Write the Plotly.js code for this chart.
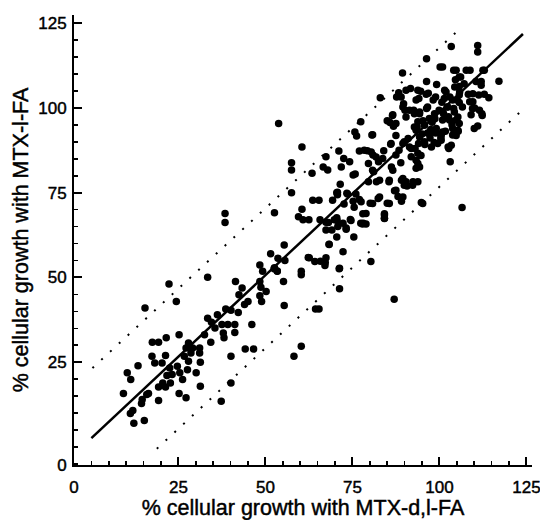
<!DOCTYPE html>
<html>
<head>
<meta charset="utf-8">
<script src="https://cdn.plot.ly/plotly-3.0.1.min.js"></script>
<style>
  html, body { margin: 0; padding: 0; background: #ffffff; }
  #chart { width: 540px; height: 520px; }
  #chart .xtick text, #chart .ytick text, #chart .xtitle, #chart .ytitle {
    stroke: #000000; stroke-width: 0.45px;
  }
</style>
</head>
<body>
<div id="chart"></div>
<script>
// % cellular growth with MTX-d,l-FA (x) vs with MTX-l-FA (y), one entry per cell line / experiment
const growthDL = [
  9.2,10.3,11.3,11.2,11.9,12.2,13.4,14.4,14.6,15.2,15.4,15.9,16.4,17.4,17.5,18.2,19.3,19.3,19.3,20.3,
  20.5,21.3,21.5,21.3,21.7,22.3,22.5,22.7,23.2,24.4,24.7,25.2,25.2,25.4,26.2,26.7,27.2,27.2,27.6,27.9,
  28.1,28.6,29.1,27.9,30.1,31.1,31.1,31.3,31.3,32.5,33.4,33.4,34.3,34.5,35.5,36.2,37.3,37.5,37.9,38.1,
  38.4,38.4,38.6,39.2,40.1,40.1,40.1,41.2,41.2,41.4,42.2,42.4,43.3,44.0,44.2,45.0,46.1,46.6,48.4,48.4,
  48.7,48.4,48.9,49.2,50.2,51.5,52.6,52.6,53.4,53.6,53.8,55.2,55.4,55.4,55.6,57.5,57.5,57.5,58.2,60.3,
  60.3,60.3,60.5,60.5,59.5,60.8,62.3,62.5,63.4,63.6,64.2,64.4,65.4,65.4,65.7,66.6,67.2,67.4,67.4,67.9,
  68.1,68.3,69.1,69.3,69.8,70.5,70.5,70.5,70.8,71.1,71.3,71.3,71.5,71.8,72.3,72.3,72.5,73.2,73.4,74.2,
  74.4,75.2,75.2,75.4,75.7,76.2,77.0,77.0,77.4,77.4,78.1,78.9,79.3,79.6,79.6,80.1,80.3,80.6,80.9,81.1,
  81.9,82.4,82.5,83.0,84.0,84.2,84.2,85.0,85.0,85.5,86.0,86.2,86.5,86.8,87.0,87.1,87.5,87.7,88.1,88.4,
  88.9,89.1,89.1,89.4,89.7,89.9,90.1,90.4,90.7,91.4,91.7,91.9,92.4,92.6,92.8,93.0,93.3,93.3,93.3,93.6,
  93.8,94.0,94.3,94.6,94.8,95.0,95.3,95.8,96.3,96.3,96.3,96.6,96.8,97.3,97.5,97.7,97.9,98.2,98.5,98.7,
  98.9,99.2,99.5,99.9,100.2,100.4,100.7,100.9,101.2,101.5,101.7,102.2,102.5,102.6,103.0,103.1,103.4,103.6,103.8,104.1,
  104.1,104.4,104.6,104.8,105.1,105.4,106.5,105.8,106.1,106.6,107.1,107.7,108.3,108.7,109.5,110.0,110.5,111.0,111.0,111.3,
  111.5,112.0,112.3,112.5,114.2,117.1,
  89.5,91.4,92.8,94.3,96.6,86.6,85.8,87.5,90.4,93.8,95.7,97.1,98.6,93.8,94.1,96.2,98.9,88.3,90.4,89.0,
  100.9,104.8,108.8,112.9,105.7,105.7,105.7,105.7,112.0,109.6,112.9,109.6,110.1,109.1,112.2,101.9,101.4,102.4,103.8,104.3,
  105.3,105.7,102.9,100.9,111.0,80.8,78.4,80.4,81.8,83.7,86.1,87.5,89.5,91.0,93.3,94.3,95.7,97.1,99.1,100.5,
  91.9,94.7,93.8,94.3,80.8,82.8,85.6,86.6,89.5,89.9,92.3,87.5,89.5,93.8,77.5,80.8,85.6,82.8,78.0,84.2,
  84.2,95.2,100.9,100.5,103.8,105.3,104.8,103.4,102.7,
  75.8,70.7,70.7,73.6,76.0,72.6,75.5,70.6,67.4,73.2,74.6,77.9,78.9,68.3,65.8,67.4,67.1,62.6,71.2,53.4,52.5
];
const growthL = [
  15.8,21.9,19.9,9.9,10.8,7.0,24.0,12.8,14.0,7.8,41.0,15.5,15.8,26.8,30.9,24.8,30.9,17.7,13.7,24.8,
  18.9,27.0,32.2,17.7,21.1,48.1,23.3,18.9,21.4,42.9,23.8,33.1,15.8,21.9,19.9,26.8,14.5,29.2,22.8,25.3,
  29.7,27.7,29.2,30.7,21.9,27.7,29.2,25.0,17.9,33.1,50.1,38.0,30.9,36.8,35.1,39.0,13.5,36.1,33.6,32.2,
  68.9,66.2,40.7,36.1,40.3,26.8,18.9,36.1,33.8,48.8,39.7,44.9,46.9,42.0,28.9,42.9,36.1,28.9,53.7,48.8,
  47.1,44.6,42.9,51.8,45.9,57.0,69.1,52.9,51.8,55.7,95.4,48.8,41.7,59.6,55.0,83.8,81.7,75.0,26.8,29.7,
  51.8,50.8,88.5,70.1,67.9,67.0,55.9,67.0,80.7,72.8,54.7,40.7,72.8,40.7,67.0,82.6,54.4,64.0,85.6,81.7,
  66.2,59.8,64.0,72.8,67.0,75.0,61.9,67.6,65.0,87.3,52.7,46.7,77.5,82.6,57.6,66.0,85.1,64.2,74.8,84.1,
  67.1,80.2,72.5,61.9,92.9,91.7,73.0,87.3,95.9,66.0,66.0,68.9,87.4,83.6,78.2,71.9,54.7,92.0,86.1,81.2,
  78.2,73.3,84.1,103.0,87.4,68.4,67.5,71.9,96.2,78.2,89.3,82.6,97.8,94.6,43.6,75.6,86.1,103.2,73.9,87.5,
  83.8,78.7,72.5,110.3,101.2,90.0,99.3,78.2,77.0,88.5,105.7,85.6,78.2,99.3,94.4,88.0,102.3,84.6,82.2,94.4,
  86.6,89.5,98.3,104.9,72.1,92.3,96.2,89.2,114.5,99.8,107.8,92.6,104.3,91.1,93.6,88.5,95.8,102.3,89.8,96.8,
  92.6,106.9,89.5,99.3,112.1,91.1,101.7,96.4,98.3,105.2,93.1,100.3,88.5,97.4,103.2,84.1,118.1,95.0,92.0,111.1,
  99.8,106.2,108.3,96.4,102.3,93.1,70.6,104.7,109.1,100.3,107.1,111.1,104.0,101.8,99.8,93.9,107.8,118.4,116.5,103.8,
  99.3,107.8,97.8,111.1,103.0,107.9,
  100.3,99.3,98.3,98.8,100.3,98.0,95.7,95.4,97.3,95.9,94.9,96.9,98.3,105.2,102.8,104.0,103.2,104.5,105.2,103.2,
  112.1,111.1,111.1,111.1,109.1,106.3,103.8,101.6,106.7,104.2,104.0,101.8,100.0,98.0,98.3,104.7,102.8,100.3,102.3,98.8,
  97.3,95.4,96.4,98.8,94.7,92.1,87.5,87.0,85.5,85.1,89.5,91.9,89.5,91.0,93.4,91.4,90.0,92.4,93.9,91.9,
  88.0,86.0,83.6,82.6,81.6,78.7,78.7,81.6,79.2,77.2,77.2,75.7,73.7,78.2,72.3,71.8,71.8,73.7,68.8,68.8,
  67.4,71.8,92.9,90.5,93.9,93.4,91.9,89.0,88.0,
  80.5,75.1,74.4,74.6,74.6,71.7,70.7,66.8,66.3,64.6,66.8,65.8,65.8,59.7,54.8,55.8,53.5,55.8,52.6,51.9,52.6
];

// regression line and the two dotted limits (end points)
const fitX = [0, 124];
const fitY = [2.6, 121.8];
const upperX = [0.3, 105.2];
const upperY = [23.3, 122.7];
const lowerX = [18.8, 123.3];
const lowerY = [-0.5, 98.9];

// axes: the "0" labels sit at the corner where the axes meet
const xRange = [-5.0, 126.6];
const yRange = [-5.3, 127.4];
const xTickVals = [xRange[0], 25, 50, 75, 100, 125];
const xTickText = ['0', '25', '50', '75', '100', '125'];
const yTickVals = [yRange[0], 25, 50, 75, 100, 125];
const yTickText = ['0', '25', '50', '75', '100', '125'];

const FONT = 'Liberation Sans, Arial, Helvetica, sans-serif';

const traces = [
  {
    type: 'scatter', mode: 'markers', x: growthDL, y: growthL,
    marker: { color: '#000000', size: 7.5, line: { width: 0 } },
    hoverinfo: 'x+y', showlegend: false
  },
  {
    type: 'scatter', mode: 'lines', x: fitX, y: fitY,
    line: { color: '#000000', width: 2.5 }, hoverinfo: 'skip', showlegend: false
  },
  {
    type: 'scatter', mode: 'lines', x: upperX, y: upperY,
    line: { color: '#000000', width: 2, dash: '2px,10px' }, hoverinfo: 'skip', showlegend: false
  },
  {
    type: 'scatter', mode: 'lines', x: lowerX, y: lowerY,
    line: { color: '#000000', width: 2, dash: '2px,10px' }, hoverinfo: 'skip', showlegend: false
  }
];

const axisCommon = {
  showline: true, linecolor: '#000000', linewidth: 2,
  showgrid: false, zeroline: false,
  ticks: 'inside', ticklen: 8, tickwidth: 2, tickcolor: '#000000',
  tickmode: 'array',
  ticklabeloverflow: 'allow',
  tickfont: { family: FONT, size: 17, color: '#000000' },
  minor: { ticks: 'inside', tick0: 0, dtick: 5, ticklen: 4, tickwidth: 1.6, tickcolor: '#000000', showgrid: false }
};

const layout = {
  width: 540, height: 520,
  margin: { l: 74, r: 8, t: 15, b: 55 },
  paper_bgcolor: '#ffffff', plot_bgcolor: '#ffffff',
  showlegend: false,
  xaxis: Object.assign({}, axisCommon, {
    range: xRange, tickvals: xTickVals, ticktext: xTickText,
    ticklabelstandoff: 6,
    title: { text: '% cellular growth with MTX-d,l-FA', font: { family: FONT, size: 21.5, color: '#000000' }, standoff: 1 }
  }),
  yaxis: Object.assign({}, axisCommon, {
    range: yRange, tickvals: yTickVals, ticktext: yTickText,
    ticklabelstandoff: 2,
    title: { text: '% cellular growth with MTX-l-FA', font: { family: FONT, size: 21.5, color: '#000000' }, standoff: 4 }
  })
};

Plotly.newPlot('chart', traces, layout, { displayModeBar: false, staticPlot: true });
</script>
</body>
</html>
